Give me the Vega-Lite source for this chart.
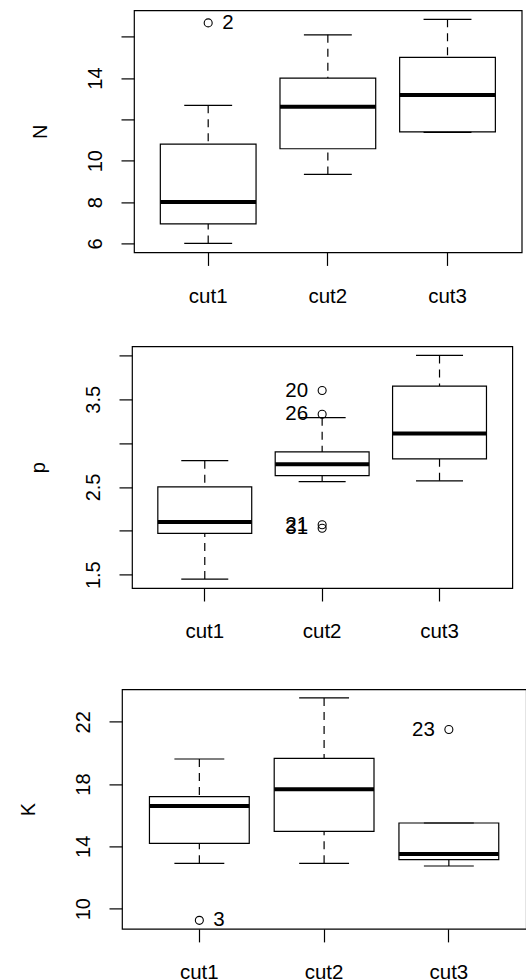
{
  "$schema": "https://vega.github.io/schema/vega-lite/v6.json",
  "background": "white",
  "padding": {"left": 0, "top": 9.4, "right": 0, "bottom": 0},
  "spacing": 0,
  "config": {
    "font": "Liberation Sans",
    "view": {"stroke": "black", "strokeWidth": 1.2},
    "axis": {
      "grid": false, "domain": false, "tickColor": "black", "tickWidth": 1.2, "tickSize": 13,
      "labelFontSize": 20, "labelColor": "black", "titleFontSize": 20, "titleFontWeight": "normal", "titleColor": "black"
    }
  },
  "datasets": {
    "box": [
      {"var": "N", "cut": "cut1", "lo": 6.0, "q1": 6.95, "med": 8.0, "q3": 10.8, "hi": 12.68},
      {"var": "N", "cut": "cut2", "lo": 9.34, "q1": 10.58, "med": 12.61, "q3": 14.0, "hi": 16.09},
      {"var": "N", "cut": "cut3", "lo": 11.37, "q1": 11.4, "med": 13.18, "q3": 15.0, "hi": 16.84},
      {"var": "p", "cut": "cut1", "lo": 1.45, "q1": 1.97, "med": 2.1, "q3": 2.5, "hi": 2.8},
      {"var": "p", "cut": "cut2", "lo": 2.56, "q1": 2.63, "med": 2.76, "q3": 2.9, "hi": 3.29},
      {"var": "p", "cut": "cut3", "lo": 2.57, "q1": 2.82, "med": 3.11, "q3": 3.65, "hi": 4.0},
      {"var": "K", "cut": "cut1", "lo": 12.91, "q1": 14.19, "med": 16.59, "q3": 17.19, "hi": 19.61},
      {"var": "K", "cut": "cut2", "lo": 12.91, "q1": 14.96, "med": 17.66, "q3": 19.65, "hi": 23.53},
      {"var": "K", "cut": "cut3", "lo": 12.74, "q1": 13.15, "med": 13.51, "q3": 15.5, "hi": 15.5}
    ],
    "out": [
      {"var": "N", "cut": "cut1", "value": 16.67, "id": "2"},
      {"var": "p", "cut": "cut2", "value": 3.6, "id": "20"},
      {"var": "p", "cut": "cut2", "value": 3.33, "id": "26"},
      {"var": "p", "cut": "cut2", "value": 2.07, "id": "21"},
      {"var": "p", "cut": "cut2", "value": 2.03, "id": "31"},
      {"var": "K", "cut": "cut1", "value": 9.25, "id": "3"},
      {"var": "K", "cut": "cut3", "value": 21.5, "id": "23"}
    ]
  },
  "vconcat": [
    {
      "spacing": 0,
      "hconcat": [
        {"width": 1, "height": 1, "data": {"values": []}, "mark": "point", "view": {"stroke": null}},
        {
          "width": 387.7, "height": 242,
          "encoding": {
            "x": {"field": "cut", "type": "nominal", "title": null,
              "scale": {"type": "band", "domain": ["cut1", "cut2", "cut3"], "paddingInner": 0, "paddingOuter": 0.12},
              "axis": {"labelAngle": 0, "labelBaseline": "alphabetic", "labelPadding": 36.7, "labelFontSize": 20.5, "minExtent": 92.2, "maxExtent": 92.2}}
          },
          "layer": [
            {"data": {"name": "box"}, "transform": [{"filter": "datum.var == 'N'"}],
              "mark": {"type": "rule", "strokeDash": [8, 6], "strokeWidth": 1.2, "color": "black"},
              "encoding": {
                "y": {"field": "hi", "type": "quantitative", "title": "N",
                  "scale": {"domain": [5.566, 17.274], "nice": false, "zero": false},
                  "axis": {"values": [6, 8, 10, 12, 14, 16], "labelExpr": "datum.value == 12 || datum.value == 16 ? '' : datum.label",
                    "labelAngle": 270, "labelAlign": "center", "labelBaseline": "alphabetic", "labelPadding": 20,
                    "titleAngle": 270, "titleBaseline": "alphabetic", "titleX": -88, "minExtent": 132, "maxExtent": 132}},
                "y2": {"field": "q3"}}},
            {"data": {"name": "box"}, "transform": [{"filter": "datum.var == 'N'"}],
              "mark": {"type": "rule", "strokeDash": [8, 6], "strokeWidth": 1.2, "color": "black"},
              "encoding": {"y": {"field": "lo", "type": "quantitative", "title": "N"}, "y2": {"field": "q1"}}},
            {"data": {"name": "box"}, "transform": [{"filter": "datum.var == 'N'"}],
              "mark": {"type": "bar", "width": {"band": 0.8}, "fill": "white", "stroke": "black", "strokeWidth": 1.2},
              "encoding": {"y": {"field": "q1", "type": "quantitative", "title": "N"}, "y2": {"field": "q3"}}},
            {"data": {"name": "box"}, "transform": [{"filter": "datum.var == 'N'"}],
              "mark": {"type": "tick", "orient": "horizontal", "size": 95.7, "thickness": 4, "color": "black", "opacity": 1},
              "encoding": {"y": {"field": "med", "type": "quantitative", "title": "N"}}},
            {"data": {"name": "box"}, "transform": [{"filter": "datum.var == 'N'"}],
              "mark": {"type": "tick", "orient": "horizontal", "size": 47.9, "thickness": 1.2, "color": "black", "opacity": 1},
              "encoding": {"y": {"field": "lo", "type": "quantitative", "title": "N"}}},
            {"data": {"name": "box"}, "transform": [{"filter": "datum.var == 'N'"}],
              "mark": {"type": "tick", "orient": "horizontal", "size": 47.9, "thickness": 1.2, "color": "black", "opacity": 1},
              "encoding": {"y": {"field": "hi", "type": "quantitative", "title": "N"}}},
            {"data": {"name": "out"}, "transform": [{"filter": "datum.var == 'N'"}],
              "mark": {"type": "point", "shape": "circle", "filled": false, "size": 64, "strokeWidth": 1.1, "color": "black", "opacity": 1},
              "encoding": {"y": {"field": "value", "type": "quantitative", "title": "N"}}},
            {"data": {"name": "out"}, "transform": [{"filter": "datum.var == 'N'"}],
              "mark": {"type": "text", "align": "left", "baseline": "middle", "dx": 14, "fontSize": 20.5, "color": "black"},
              "encoding": {"y": {"field": "value", "type": "quantitative", "title": "N"}, "text": {"field": "id"}}}
          ]
        }
      ]
    },
    {
      "spacing": 0,
      "hconcat": [
        {"width": 1, "height": 1, "data": {"values": []}, "mark": "point", "view": {"stroke": null}},
        {
          "width": 380.3, "height": 241.6,
          "encoding": {
            "x": {"field": "cut", "type": "nominal", "title": null,
              "scale": {"type": "band", "domain": ["cut1", "cut2", "cut3"], "paddingInner": 0, "paddingOuter": 0.12},
              "axis": {"labelAngle": 0, "labelBaseline": "alphabetic", "labelPadding": 36.7, "labelFontSize": 20.5, "minExtent": 99.6, "maxExtent": 99.6}}
          },
          "layer": [
            {"data": {"name": "box"}, "transform": [{"filter": "datum.var == 'p'"}],
              "mark": {"type": "rule", "strokeDash": [8, 6], "strokeWidth": 1.2, "color": "black"},
              "encoding": {
                "y": {"field": "hi", "type": "quantitative", "title": "p",
                  "scale": {"domain": [1.348, 4.103], "nice": false, "zero": false},
                  "axis": {"values": [1.5, 2, 2.5, 3, 3.5, 4], "format": ".1f", "labelExpr": "datum.value == 1.5 || datum.value == 2.5 || datum.value == 3.5 ? datum.label : ''",
                    "labelAngle": 270, "labelAlign": "center", "labelBaseline": "alphabetic", "labelPadding": 20,
                    "titleAngle": 270, "titleBaseline": "alphabetic", "titleX": -88, "minExtent": 130, "maxExtent": 130}},
                "y2": {"field": "q3"}}},
            {"data": {"name": "box"}, "transform": [{"filter": "datum.var == 'p'"}],
              "mark": {"type": "rule", "strokeDash": [8, 6], "strokeWidth": 1.2, "color": "black"},
              "encoding": {"y": {"field": "lo", "type": "quantitative", "title": "p"}, "y2": {"field": "q1"}}},
            {"data": {"name": "box"}, "transform": [{"filter": "datum.var == 'p'"}],
              "mark": {"type": "bar", "width": {"band": 0.8}, "fill": "white", "stroke": "black", "strokeWidth": 1.2},
              "encoding": {"y": {"field": "q1", "type": "quantitative", "title": "p"}, "y2": {"field": "q3"}}},
            {"data": {"name": "box"}, "transform": [{"filter": "datum.var == 'p'"}],
              "mark": {"type": "tick", "orient": "horizontal", "size": 93.9, "thickness": 4, "color": "black", "opacity": 1},
              "encoding": {"y": {"field": "med", "type": "quantitative", "title": "p"}}},
            {"data": {"name": "box"}, "transform": [{"filter": "datum.var == 'p'"}],
              "mark": {"type": "tick", "orient": "horizontal", "size": 47, "thickness": 1.2, "color": "black", "opacity": 1},
              "encoding": {"y": {"field": "lo", "type": "quantitative", "title": "p"}}},
            {"data": {"name": "box"}, "transform": [{"filter": "datum.var == 'p'"}],
              "mark": {"type": "tick", "orient": "horizontal", "size": 47, "thickness": 1.2, "color": "black", "opacity": 1},
              "encoding": {"y": {"field": "hi", "type": "quantitative", "title": "p"}}},
            {"data": {"name": "out"}, "transform": [{"filter": "datum.var == 'p'"}],
              "mark": {"type": "point", "shape": "circle", "filled": false, "size": 64, "strokeWidth": 1.1, "color": "black", "opacity": 1},
              "encoding": {"y": {"field": "value", "type": "quantitative", "title": "p"}}},
            {"data": {"name": "out"}, "transform": [{"filter": "datum.var == 'p'"}],
              "mark": {"type": "text", "align": "right", "baseline": "middle", "dx": -14, "fontSize": 20.5, "color": "black"},
              "encoding": {"y": {"field": "value", "type": "quantitative", "title": "p"}, "text": {"field": "id"}}}
          ]
        }
      ]
    },
    {
      "spacing": 0,
      "hconcat": [
        {"width": 1, "height": 1, "data": {"values": []}, "mark": "point", "view": {"stroke": null}},
        {
          "width": 404.2, "height": 239.5,
          "encoding": {
            "x": {"field": "cut", "type": "nominal", "title": null,
              "scale": {"type": "band", "domain": ["cut1", "cut2", "cut3"], "paddingInner": 0, "paddingOuter": 0.12},
              "axis": {"labelAngle": 0, "labelBaseline": "alphabetic", "labelPadding": 36.7, "labelFontSize": 20.5, "minExtent": 60, "maxExtent": 60}}
          },
          "layer": [
            {"data": {"name": "box"}, "transform": [{"filter": "datum.var == 'K'"}],
              "mark": {"type": "rule", "strokeDash": [8, 6], "strokeWidth": 1.2, "color": "black"},
              "encoding": {
                "y": {"field": "hi", "type": "quantitative", "title": "K",
                  "scale": {"domain": [8.70, 24.08], "nice": false, "zero": false},
                  "axis": {"values": [10, 12, 14, 16, 18, 20, 22, 24], "labelExpr": "datum.value == 10 || datum.value == 14 || datum.value == 18 || datum.value == 22 ? datum.label : ''",
                    "labelAngle": 270, "labelAlign": "center", "labelBaseline": "alphabetic", "labelPadding": 20,
                    "titleAngle": 270, "titleBaseline": "alphabetic", "titleX": -88, "minExtent": 120, "maxExtent": 120}},
                "y2": {"field": "q3"}}},
            {"data": {"name": "box"}, "transform": [{"filter": "datum.var == 'K'"}],
              "mark": {"type": "rule", "strokeDash": [8, 6], "strokeWidth": 1.2, "color": "black"},
              "encoding": {"y": {"field": "lo", "type": "quantitative", "title": "K"}, "y2": {"field": "q1"}}},
            {"data": {"name": "box"}, "transform": [{"filter": "datum.var == 'K'"}],
              "mark": {"type": "bar", "width": {"band": 0.8}, "fill": "white", "stroke": "black", "strokeWidth": 1.2},
              "encoding": {"y": {"field": "q1", "type": "quantitative", "title": "K"}, "y2": {"field": "q3"}}},
            {"data": {"name": "box"}, "transform": [{"filter": "datum.var == 'K'"}],
              "mark": {"type": "tick", "orient": "horizontal", "size": 99.8, "thickness": 4, "color": "black", "opacity": 1},
              "encoding": {"y": {"field": "med", "type": "quantitative", "title": "K"}}},
            {"data": {"name": "box"}, "transform": [{"filter": "datum.var == 'K'"}],
              "mark": {"type": "tick", "orient": "horizontal", "size": 49.9, "thickness": 1.2, "color": "black", "opacity": 1},
              "encoding": {"y": {"field": "lo", "type": "quantitative", "title": "K"}}},
            {"data": {"name": "box"}, "transform": [{"filter": "datum.var == 'K'"}],
              "mark": {"type": "tick", "orient": "horizontal", "size": 49.9, "thickness": 1.2, "color": "black", "opacity": 1},
              "encoding": {"y": {"field": "hi", "type": "quantitative", "title": "K"}}},
            {"data": {"name": "out"}, "transform": [{"filter": "datum.var == 'K'"}],
              "mark": {"type": "point", "shape": "circle", "filled": false, "size": 64, "strokeWidth": 1.1, "color": "black", "opacity": 1},
              "encoding": {"y": {"field": "value", "type": "quantitative", "title": "K"}}},
            {"data": {"name": "out"}, "transform": [{"filter": "datum.var == 'K' && datum.id == '3'"}],
              "mark": {"type": "text", "align": "left", "baseline": "middle", "dx": 14, "fontSize": 20.5, "color": "black"},
              "encoding": {"y": {"field": "value", "type": "quantitative", "title": "K"}, "text": {"field": "id"}}},
            {"data": {"name": "out"}, "transform": [{"filter": "datum.var == 'K' && datum.id == '23'"}],
              "mark": {"type": "text", "align": "right", "baseline": "middle", "dx": -14, "fontSize": 20.5, "color": "black"},
              "encoding": {"y": {"field": "value", "type": "quantitative", "title": "K"}, "text": {"field": "id"}}}
          ]
        }
      ]
    }
  ]
}
